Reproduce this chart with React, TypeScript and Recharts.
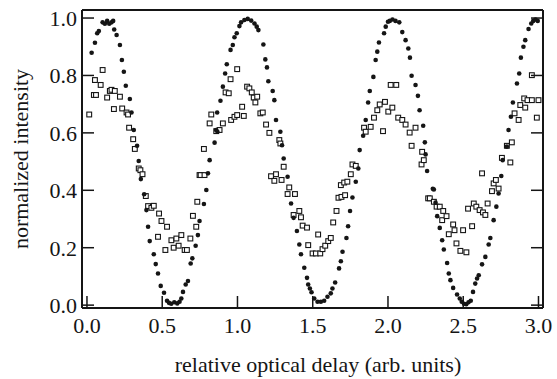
import React from "react";
import { ScatterChart, Scatter, XAxis, YAxis, Label } from "recharts";

const INK = "#151515";
const FONT = "'Liberation Serif', 'Times New Roman', serif";

const xTicks = [0, 0.5, 1, 1.5, 2, 2.5, 3];
const yTicks = [0, 0.2, 0.4, 0.6, 0.8, 1.0];

// filled circles: [delay, intensity]
const filledDots: [number, number][] = [
  [0.031, 0.879], [0.053, 0.914], [0.068, 0.947], [0.079, 0.955], [0.104, 0.985], [0.119, 0.98],
  [0.134, 0.99], [0.148, 0.98], [0.163, 0.985], [0.174, 0.99], [0.181, 0.96], [0.197, 0.941],
  [0.219, 0.906], [0.232, 0.854], [0.245, 0.813], [0.258, 0.764], [0.285, 0.718], [0.296, 0.671],
  [0.311, 0.61], [0.333, 0.555], [0.344, 0.502], [0.358, 0.439], [0.38, 0.386], [0.395, 0.331],
  [0.406, 0.273], [0.417, 0.223], [0.444, 0.177], [0.457, 0.143], [0.472, 0.11], [0.49, 0.067],
  [0.512, 0.043], [0.532, 0.015], [0.545, 0.008], [0.56, 0.005], [0.58, 0.01], [0.6, 0.006],
  [0.615, 0.012], [0.627, 0.023], [0.638, 0.046], [0.656, 0.072], [0.671, 0.084], [0.689, 0.145],
  [0.7, 0.163], [0.722, 0.207], [0.737, 0.244], [0.748, 0.293], [0.777, 0.352], [0.793, 0.401],
  [0.804, 0.459], [0.815, 0.505], [0.848, 0.566], [0.858, 0.61], [0.866, 0.605], [0.865, 0.671],
  [0.887, 0.712], [0.903, 0.761], [0.918, 0.807], [0.929, 0.839], [0.954, 0.889], [0.969, 0.906],
  [0.98, 0.933], [0.995, 0.947], [1.013, 0.972], [1.024, 0.985], [1.046, 0.993], [1.068, 0.997],
  [1.091, 0.991], [1.113, 0.981], [1.128, 0.97], [1.139, 0.958], [1.172, 0.908], [1.185, 0.856],
  [1.196, 0.828], [1.205, 0.78], [1.234, 0.746], [1.245, 0.714], [1.256, 0.645], [1.285, 0.604],
  [1.296, 0.557], [1.307, 0.511], [1.333, 0.447], [1.356, 0.354], [1.373, 0.304], [1.395, 0.258],
  [1.411, 0.211], [1.422, 0.177], [1.444, 0.13], [1.462, 0.095], [1.47, 0.072], [1.481, 0.058],
  [1.492, 0.045], [1.51, 0.023], [1.532, 0.012], [1.554, 0.012], [1.576, 0.015], [1.598, 0.029],
  [1.62, 0.041], [1.631, 0.058], [1.649, 0.079], [1.675, 0.128], [1.687, 0.153], [1.698, 0.186],
  [1.724, 0.234], [1.735, 0.275], [1.748, 0.328], [1.764, 0.375], [1.786, 0.43], [1.803, 0.476],
  [1.812, 0.54], [1.835, 0.59], [1.852, 0.645], [1.868, 0.706], [1.879, 0.746], [1.903, 0.795],
  [1.918, 0.854], [1.929, 0.883], [1.94, 0.915], [1.974, 0.947], [1.985, 0.97], [2.0, 0.987],
  [2.012, 0.99], [2.03, 0.995], [2.05, 0.99], [2.075, 0.985], [2.095, 0.951], [2.117, 0.923],
  [2.135, 0.894], [2.146, 0.862], [2.157, 0.799], [2.183, 0.767], [2.199, 0.729], [2.21, 0.679],
  [2.234, 0.625], [2.245, 0.567], [2.25, 0.525], [2.26, 0.467], [2.298, 0.405], [2.305, 0.403],
  [2.316, 0.357], [2.327, 0.31], [2.344, 0.269], [2.36, 0.226], [2.371, 0.194], [2.393, 0.147],
  [2.404, 0.11], [2.415, 0.087], [2.433, 0.06], [2.459, 0.037], [2.477, 0.023], [2.49, 0.012],
  [2.505, 0.005], [2.52, 0.003], [2.535, 0.01], [2.55, 0.015], [2.565, 0.046], [2.58, 0.075],
  [2.592, 0.093], [2.603, 0.104], [2.625, 0.142], [2.647, 0.168], [2.669, 0.211], [2.68, 0.234],
  [2.702, 0.296], [2.72, 0.343], [2.735, 0.389], [2.753, 0.45], [2.762, 0.505], [2.79, 0.552],
  [2.801, 0.61], [2.817, 0.656], [2.83, 0.706], [2.857, 0.772], [2.872, 0.807], [2.883, 0.862],
  [2.9, 0.9], [2.912, 0.923], [2.934, 0.962], [2.952, 0.981], [2.965, 0.99], [2.98, 0.995],
  [2.995, 0.99],
];

// open squares: [delay, intensity]
const openSquares: [number, number][] = [
  [0.015, 0.664], [0.046, 0.732], [0.06, 0.732], [0.053, 0.784], [0.091, 0.767], [0.104, 0.819],
  [0.134, 0.723], [0.152, 0.746], [0.163, 0.75], [0.179, 0.683], [0.185, 0.746], [0.219, 0.726],
  [0.234, 0.685], [0.263, 0.671], [0.273, 0.664], [0.28, 0.618], [0.307, 0.578], [0.318, 0.544],
  [0.344, 0.476], [0.355, 0.47], [0.369, 0.456], [0.391, 0.38], [0.406, 0.345], [0.428, 0.339],
  [0.444, 0.346], [0.472, 0.238], [0.479, 0.319], [0.495, 0.293], [0.521, 0.192], [0.532, 0.273],
  [0.561, 0.226], [0.576, 0.2], [0.594, 0.232], [0.609, 0.207], [0.627, 0.244], [0.649, 0.192],
  [0.664, 0.192], [0.687, 0.232], [0.704, 0.311], [0.726, 0.273], [0.733, 0.36], [0.748, 0.453],
  [0.755, 0.453], [0.777, 0.544], [0.781, 0.453], [0.815, 0.633], [0.826, 0.664], [0.859, 0.606],
  [0.881, 0.61], [0.903, 0.633], [0.921, 0.741], [0.942, 0.738], [0.954, 0.787], [0.958, 0.645],
  [0.98, 0.656], [0.998, 0.822], [0.998, 0.662], [1.031, 0.691], [1.042, 0.659], [1.064, 0.761],
  [1.079, 0.755], [1.095, 0.741], [1.108, 0.723], [1.119, 0.706], [1.131, 0.726], [1.152, 0.668],
  [1.168, 0.671], [1.19, 0.629], [1.212, 0.6], [1.223, 0.449], [1.245, 0.433], [1.256, 0.456],
  [1.278, 0.575], [1.285, 0.563], [1.293, 0.436], [1.307, 0.482], [1.333, 0.387], [1.344, 0.41],
  [1.373, 0.314], [1.382, 0.387], [1.411, 0.328], [1.422, 0.306], [1.433, 0.277], [1.462, 0.27],
  [1.47, 0.209], [1.499, 0.18], [1.521, 0.18], [1.536, 0.246], [1.55, 0.18], [1.565, 0.195],
  [1.583, 0.207], [1.603, 0.223], [1.62, 0.234], [1.636, 0.288], [1.658, 0.328], [1.671, 0.374],
  [1.687, 0.418], [1.691, 0.377], [1.709, 0.427], [1.715, 0.383], [1.73, 0.43], [1.753, 0.456],
  [1.764, 0.49], [1.786, 0.485], [1.841, 0.618], [1.852, 0.604], [1.885, 0.621], [1.907, 0.653],
  [1.929, 0.679], [1.945, 0.699], [1.967, 0.606], [1.98, 0.708], [2.002, 0.674], [2.018, 0.767],
  [2.029, 0.688], [2.055, 0.767], [2.068, 0.653], [2.095, 0.645], [2.117, 0.629], [2.144, 0.601],
  [2.157, 0.555], [2.183, 0.618], [2.223, 0.49], [2.227, 0.534], [2.238, 0.505], [2.267, 0.372],
  [2.278, 0.372], [2.305, 0.36], [2.323, 0.343], [2.344, 0.343], [2.36, 0.296], [2.367, 0.328],
  [2.389, 0.31], [2.404, 0.247], [2.433, 0.281], [2.442, 0.261], [2.455, 0.215], [2.481, 0.189],
  [2.499, 0.261], [2.521, 0.184], [2.532, 0.336], [2.559, 0.275], [2.57, 0.354], [2.587, 0.343],
  [2.609, 0.331], [2.625, 0.459], [2.631, 0.323], [2.647, 0.314], [2.662, 0.354], [2.691, 0.397],
  [2.702, 0.424], [2.717, 0.436], [2.735, 0.406], [2.757, 0.513], [2.79, 0.555], [2.813, 0.497],
  [2.823, 0.567], [2.841, 0.668], [2.868, 0.645], [2.879, 0.697], [2.905, 0.72], [2.912, 0.688],
  [2.927, 0.714], [2.956, 0.714], [2.956, 0.801], [2.989, 0.653], [3.0, 0.714],
];

const dots = filledDots.map(([x, y]) => ({ x, y }));
const squares = openSquares.map(([x, y]) => ({ x, y }));

const TICK_LEN = 12;
const textStyle = { fontFamily: FONT, fontSize: 22, fill: INK };

const BottomTick = (props: any) => {
  const { x, y, payload } = props;
  return (
    <g>
      <line x1={x} y1={y} x2={x} y2={y - TICK_LEN} stroke={INK} strokeWidth={1.5} />
      <text x={x} y={y + 25} textAnchor="middle" {...textStyle}>
        {Number(payload.value).toFixed(1)}
      </text>
    </g>
  );
};

const TopTick = (props: any) => {
  const { x, y } = props;
  return <line x1={x} y1={y} x2={x} y2={y + TICK_LEN} stroke={INK} strokeWidth={1.5} />;
};

const LeftTick = (props: any) => {
  const { x, y, payload } = props;
  return (
    <g>
      <line x1={x} y1={y} x2={x + TICK_LEN} y2={y} stroke={INK} strokeWidth={1.5} />
      <text x={x - 5} y={y} dy="0.36em" textAnchor="end" {...textStyle}>
        {Number(payload.value).toFixed(1)}
      </text>
    </g>
  );
};

const RightTick = (props: any) => {
  const { x, y } = props;
  return <line x1={x} y1={y} x2={x - TICK_LEN} y2={y} stroke={INK} strokeWidth={1.5} />;
};

const renderDot = (props: any) => <circle cx={props.cx} cy={props.cy} r={2.3} fill={INK} />;
const renderSquare = (props: any) => (
  <rect x={props.cx - 2.4} y={props.cy - 2.4} width={4.8} height={4.8} fill="#fff" stroke={INK} strokeWidth={1.1} />
);

const axisLine = { stroke: INK, strokeWidth: 2 };

export default function App() {
  return (
    <div style={{ position: "absolute", left: 0, top: 0, width: 557, height: 379, background: "#fff" }}>
      <ScatterChart width={557} height={379} margin={{ top: 9, right: 13, bottom: 70, left: 81 }}>
        <XAxis
          xAxisId="b"
          type="number"
          dataKey="x"
          domain={[-0.033, 3.03]}
          ticks={xTicks}
          allowDataOverflow
          height={1}
          tickSize={0}
          tickMargin={0}
          tickLine={false}
          axisLine={axisLine}
          tick={<BottomTick />}
          interval={0}
        >
          <Label
            content={() => (
              <text x={318} y={372} textAnchor="middle" {...textStyle}>
                relative optical delay (arb. units)
              </text>
            )}
          />
        </XAxis>
        <XAxis
          xAxisId="t"
          orientation="top"
          type="number"
          domain={[-0.033, 3.03]}
          ticks={xTicks}
          allowDataOverflow
          height={1}
          tickSize={0}
          tickMargin={0}
          tickLine={false}
          axisLine={axisLine}
          tick={<TopTick />}
          interval={0}
        />
        <YAxis
          yAxisId="l"
          type="number"
          dataKey="y"
          domain={[-0.01, 1.028]}
          ticks={yTicks}
          allowDataOverflow
          width={1}
          tickSize={0}
          tickMargin={0}
          tickLine={false}
          axisLine={axisLine}
          tick={<LeftTick />}
          interval={0}
        >
          <Label
            content={() => (
              <text x={20} y={159} transform="rotate(-90 20 159)" textAnchor="middle" dy="0.35em" {...textStyle}>
                normalized intensity
              </text>
            )}
          />
        </YAxis>
        <YAxis
          yAxisId="r"
          orientation="right"
          type="number"
          domain={[-0.01, 1.028]}
          ticks={yTicks}
          allowDataOverflow
          width={1}
          tickSize={0}
          tickMargin={0}
          tickLine={false}
          axisLine={axisLine}
          tick={<RightTick />}
          interval={0}
        />
        <Scatter data={squares} xAxisId="b" yAxisId="l" shape={renderSquare} isAnimationActive={false} />
        <Scatter data={dots} xAxisId="b" yAxisId="l" shape={renderDot} isAnimationActive={false} />
      </ScatterChart>
    </div>
  );
}
